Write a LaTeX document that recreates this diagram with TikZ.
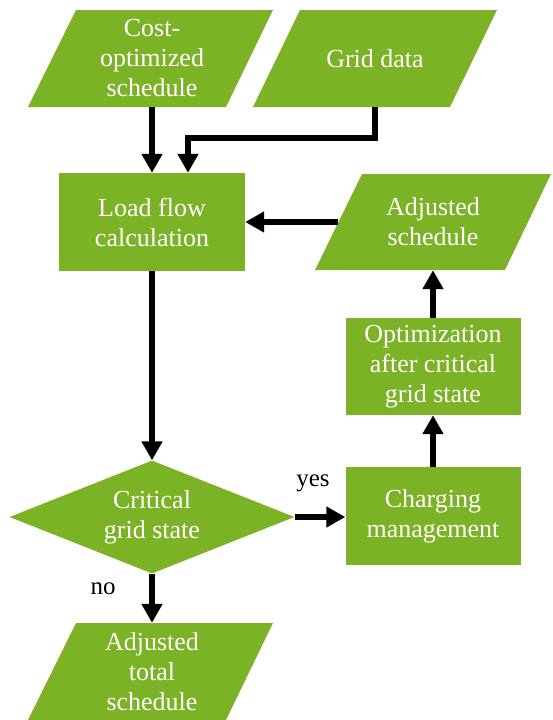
\documentclass[tikz,border=0pt]{standalone}
\usepackage{fontspec}
\setmainfont{Liberation Serif}
\newfontfamily\boxfont{Liberation Serif}
\usetikzlibrary{shapes.geometric,arrows.meta}

\newlength{\du}
\setlength{\du}{1pt}
\definecolor{boxgreen}{RGB}{124,179,38}

\tikzset{
  boxtext/.style={text=white, align=center, inner sep=0pt, font=\boxfont\fontsize{26}{30}\selectfont},
  procbox/.style={boxtext, rectangle, fill=boxgreen},
  iotext/.style={boxtext, rectangle, minimum width=150\du, minimum height=97\du},
  decbox/.style={boxtext, diamond, aspect=2.52, fill=boxgreen, minimum width=285\du, minimum height=113\du},
  flow/.style={line width=6.5\du, -{Triangle[width=20pt,length=19pt]}},
  answer/.style={font=\boxfont\fontsize{25}{28}\selectfont, inner sep=0pt}
}

\begin{document}
\begin{tikzpicture}
\pgftransformxscale{1.000000}
\pgftransformyscale{-1.000000}
\useasboundingbox (0\du,0\du) rectangle (552\du,720\du);
% parallelograms
\fill[boxgreen] (28\du,107\du)--(76\du,10\du)--(273\du,10\du)--(226\du,107\du)--cycle;
\fill[boxgreen] (253\du,107\du)--(300\du,10\du)--(497\du,10\du)--(450\du,107\du)--cycle;
\fill[boxgreen] (315\du,270\du)--(362\du,174\du)--(551\du,174\du)--(505\du,270\du)--cycle;
\fill[boxgreen] (28\du,720\du)--(76\du,623\du)--(273\du,623\du)--(226\du,720\du)--cycle;
% inputs
\node[iotext] (costsched) at (152\du,58.5\du){Cost-\\optimized\\schedule};
\node[iotext] (griddata) at (375\du,58.5\du){Grid data};
% main loop
\node[procbox, minimum width=186\du, minimum height=98\du] (loadflow) at (152\du,222\du){Load flow\\calculation};
\node[iotext, minimum width=190\du, minimum height=96\du] (adjsched) at (433\du,222\du){Adjusted\\schedule};
\node[procbox, minimum width=175\du, minimum height=97\du] (optim) at (433\du,366.5\du){Optimization\\after critical\\grid state};
\node[procbox, minimum width=175\du, minimum height=98\du] (charging) at (433\du,516\du){Charging\\management};
\node[decbox] (critical) at (152\du,517\du){Critical\\grid state};
% output
\node[iotext] (totalsched) at (152\du,671.5\du){Adjusted\\total\\schedule};
% labels
\node[answer] (yeslbl) at (313\du,483\du){yes};
\node[answer] (nolbl) at (103\du,589\du){no};
% arrows
\coordinate (gridbend) at (188\du,138\du);
\draw[flow] (costsched.south) -- (loadflow.north);
\draw[flow] (griddata.south) |- (gridbend) -- (gridbend |- loadflow.north);
\draw[flow] (adjsched.west) -- (loadflow.east);
\draw[flow] (loadflow.south) -- (critical.north);
\draw[flow] (critical.east) -- (critical.east -| charging.west);
\draw[flow] (charging.north) -- (optim.south);
\draw[flow] (optim.north) -- (adjsched.south);
\draw[flow] (critical.south) -- (totalsched.north);
\end{tikzpicture}
\end{document}
